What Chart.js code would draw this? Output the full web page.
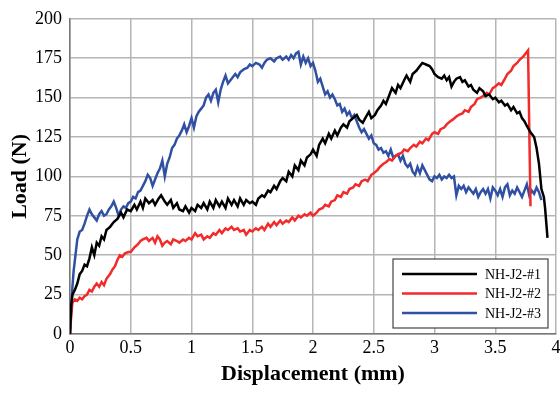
<!DOCTYPE html>
<html>
<head>
<meta charset="utf-8">
<script src="https://cdn.jsdelivr.net/npm/chart.js@4/dist/chart.umd.min.js"></script>
<style>
  html, body { margin: 0; padding: 0; background: #fff; }
  #wrap { width: 560px; height: 396px; }
</style>
</head>
<body>
<div id="wrap"><canvas id="loadChart"></canvas></div>
<script>
// values (displacement in mm, load in N)
var seriesNames = ["NH-J2-#1", "NH-J2-#2", "NH-J2-#3"];
var xTicks = [0, 0.5, 1, 1.5, 2, 2.5, 3, 3.5, 4];
var yTicks = [0, 25, 50, 75, 100, 125, 150, 175, 200];

var j1x = [0,0.01,0.02,0.04,0.06,0.08,0.10,0.12,0.14,0.16,0.18,0.20,0.22,0.24,0.26,0.28,0.30,0.33,0.36,0.39,
  0.42,0.44,0.47,0.50,0.53,0.55,0.58,0.60,0.62,0.65,0.68,0.70,0.73,0.75,0.78,0.80,0.83,0.85,0.88,0.90,
  0.93,0.95,0.98,1.00,1.03,1.05,1.08,1.10,1.13,1.15,1.18,1.20,1.23,1.25,1.28,1.30,1.33,1.35,1.38,1.40,
  1.43,1.45,1.48,1.50,1.53,1.55,1.58,1.60,1.63,1.65,1.68,1.70,1.73,1.75,1.78,1.80,1.83,1.85,1.88,1.90,
  1.93,1.95,1.98,2.00,2.03,2.05,2.08,2.10,2.13,2.15,2.18,2.20,2.23,2.25,2.28,2.30,2.33,2.36,2.38,2.41,
  2.43,2.46,2.48,2.51,2.53,2.56,2.58,2.60,2.63,2.65,2.68,2.70,2.72,2.75,2.77,2.80,2.82,2.85,2.88,2.90,
  2.93,2.96,2.98,3.00,3.03,3.06,3.08,3.10,3.12,3.14,3.16,3.18,3.21,3.23,3.25,3.28,3.30,3.32,3.35,3.37,
  3.40,3.42,3.45,3.48,3.50,3.53,3.55,3.58,3.60,3.63,3.65,3.68,3.70,3.72,3.74,3.76,3.79,3.82,3.84,3.86,
  3.88,3.90,3.91,3.93];
var j1y = [0,18,25,28,32,38,40,44,43,48,55,50,58,56,62,60,66,68,71,73,
  77,74,79,78,82,79,84,80,86,83,85,82,86,88,84,82,85,80,83,79,
  78,81,77,80,78,82,80,83,79,84,80,85,81,84,80,86,82,85,81,86,
  82,85,83,84,82,86,88,87,91,90,94,92,97,99,97,103,100,107,104,110,
  107,112,114,117,113,120,124,121,127,124,129,126,131,133,131,135,137,139,136,134,
  137,141,137,139,142,145,148,146,152,156,153,158,156,161,164,160,165,167,170,172,
  171,170,168,165,163,162,164,161,163,157,160,162,163,160,161,157,158,155,153,156,
  154,151,152,149,150,147,148,145,146,142,144,140,141,137,135,132,128,125,118,108,
  92,87,80,61];

var j2x = [0,0.01,0.02,0.04,0.06,0.08,0.10,0.12,0.14,0.16,0.18,0.20,0.22,0.24,0.26,0.28,0.30,0.33,0.35,0.37,
  0.39,0.41,0.43,0.45,0.48,0.50,0.53,0.56,0.58,0.60,0.63,0.65,0.68,0.70,0.72,0.74,0.76,0.78,0.80,0.83,
  0.85,0.88,0.90,0.93,0.95,0.98,1.00,1.03,1.05,1.08,1.10,1.13,1.15,1.18,1.20,1.23,1.25,1.28,1.30,1.33,
  1.35,1.38,1.40,1.43,1.45,1.48,1.50,1.53,1.55,1.58,1.60,1.63,1.65,1.68,1.70,1.73,1.75,1.78,1.80,1.83,
  1.85,1.88,1.90,1.93,1.95,1.98,2.00,2.03,2.05,2.08,2.10,2.13,2.15,2.18,2.20,2.23,2.25,2.28,2.30,2.33,
  2.35,2.38,2.40,2.43,2.45,2.48,2.50,2.53,2.55,2.58,2.60,2.63,2.65,2.68,2.70,2.73,2.75,2.78,2.80,2.83,
  2.85,2.88,2.90,2.93,2.95,2.98,3.00,3.03,3.05,3.08,3.10,3.13,3.15,3.18,3.20,3.23,3.25,3.28,3.30,3.33,
  3.35,3.38,3.40,3.43,3.45,3.48,3.50,3.53,3.55,3.58,3.60,3.63,3.65,3.68,3.70,3.73,3.75,3.77,3.79];
var j2y = [0,12,20,22,21,23,22,24,25,28,27,30,32,30,33,31,35,38,41,43,
  47,50,49,51,52,52,55,57,59,60,61,59,61,58,62,60,56,58,59,57,
  60,59,58,60,59,61,60,64,62,63,60,62,61,64,63,66,64,67,66,68,
  66,67,65,66,63,66,65,67,66,68,66,70,68,71,69,72,70,72,71,74,
  72,75,74,76,75,77,75,77,79,80,82,81,84,85,88,87,90,89,92,93,
  95,94,97,98,97,101,102,104,106,108,109,111,110,113,114,115,117,116,118,120,
  119,122,121,124,123,127,128,127,130,131,133,135,136,138,139,140,142,141,144,146,
  149,150,151,153,152,156,157,159,158,162,165,167,170,172,174,176,178,180,81];

var j3x = [0,0.01,0.02,0.03,0.045,0.06,0.08,0.10,0.12,0.14,0.16,0.18,0.20,0.22,0.24,0.26,0.28,0.30,0.32,0.34,
  0.36,0.38,0.40,0.42,0.44,0.46,0.48,0.50,0.52,0.54,0.56,0.58,0.60,0.62,0.64,0.66,0.68,0.70,0.72,0.74,
  0.76,0.78,0.80,0.82,0.84,0.86,0.88,0.90,0.92,0.94,0.96,0.98,1.00,1.02,1.04,1.06,1.08,1.10,1.12,1.14,
  1.16,1.18,1.20,1.22,1.24,1.26,1.28,1.30,1.33,1.36,1.38,1.40,1.43,1.46,1.48,1.50,1.53,1.56,1.58,1.60,
  1.62,1.65,1.68,1.70,1.73,1.75,1.78,1.80,1.82,1.84,1.86,1.88,1.90,1.92,1.94,1.96,1.98,2.00,2.02,2.04,
  2.06,2.08,2.10,2.12,2.14,2.16,2.18,2.20,2.22,2.24,2.26,2.28,2.30,2.32,2.34,2.36,2.38,2.40,2.42,2.44,
  2.46,2.48,2.50,2.52,2.54,2.56,2.58,2.60,2.62,2.64,2.66,2.68,2.70,2.72,2.74,2.76,2.78,2.80,2.82,2.84,
  2.86,2.88,2.90,2.92,2.94,2.96,2.98,3.00,3.02,3.04,3.06,3.08,3.10,3.12,3.14,3.16,3.18,3.20,3.22,3.24,
  3.26,3.28,3.30,3.32,3.34,3.36,3.38,3.40,3.42,3.44,3.46,3.48,3.50,3.52,3.54,3.56,3.58,3.60,3.62,3.64,
  3.66,3.68,3.70,3.72,3.74,3.76,3.78,3.80,3.82,3.84,3.86,3.88];
var j3y = [0,15,30,40,50,60,65,66,70,75,79,76,74,72,76,78,75,76,79,81,
  84,80,75,79,81,80,83,84,87,86,90,91,94,97,101,99,94,98,102,105,
  110,100,108,112,118,120,124,126,129,133,128,132,137,131,138,141,143,145,150,152,
  148,153,155,147,155,160,164,159,162,165,163,166,168,169,171,170,172,171,169,172,
  174,175,173,175,176,174,176,174,177,175,178,179,171,176,172,175,170,172,167,160,
  162,157,152,154,150,152,149,145,146,141,143,139,141,137,139,135,131,128,130,127,
  124,126,121,120,117,118,115,116,113,117,112,113,114,110,113,108,106,108,103,101,
  106,102,107,104,101,98,97,100,99,101,98,100,99,101,99,100,88,94,92,94,
  90,93,91,89,92,87,90,92,89,92,86,93,91,88,92,87,93,95,88,91,
  89,93,90,87,91,95,88,91,89,93,90,85];

function pts(xs, ys) {
  return xs.map(function (x, i) { return { x: x, y: ys[i] }; });
}

var serif = "'Liberation Serif', 'Times New Roman', serif";

// legend box drawn inside the plot, lower right
var boxLegend = {
  id: 'boxLegend',
  afterDraw: function (chart) {
    var c = chart.ctx, a = chart.chartArea;
    var w = 155, h = 69;
    var x0 = a.right - 8 - w, y0 = a.bottom - 6 - h;
    c.save();
    c.fillStyle = '#fff';
    c.fillRect(x0, y0, w, h);
    c.strokeStyle = '#444';
    c.lineWidth = 1.2;
    c.strokeRect(x0, y0, w, h);
    c.font = '14px ' + serif;
    c.textBaseline = 'middle';
    chart.data.datasets.forEach(function (ds, i) {
      var yy = y0 + 15 + i * 19.5;
      c.strokeStyle = ds.borderColor;
      c.lineWidth = 2.5;
      c.beginPath();
      c.moveTo(x0 + 9, yy);
      c.lineTo(x0 + 84, yy);
      c.stroke();
      c.fillStyle = '#000';
      c.fillText(ds.label, x0 + 92, yy + 1);
    });
    c.restore();
  }
};

function plain(v) { return String(v); }

new Chart(document.getElementById('loadChart'), {
  type: 'line',
  data: {
    datasets: [
      { label: seriesNames[0], data: pts(j1x, j1y), borderColor: '#000000' },
      { label: seriesNames[1], data: pts(j2x, j2y), borderColor: '#f22a2a' },
      { label: seriesNames[2], data: pts(j3x, j3y), borderColor: '#3050a4' }
    ]
  },
  options: {
    responsive: true,
    maintainAspectRatio: false,
    animation: false,
    elements: {
      line: { borderWidth: 2.5, tension: 0, fill: false },
      point: { radius: 0 }
    },
    layout: { padding: { top: 11, right: 0, left: 0, bottom: 0 } },
    plugins: {
      legend: { display: false },
      tooltip: { enabled: false }
    },
    scales: {
      x: {
        type: 'linear',
        min: 0, max: 4,
        afterFit: function (s) { s.height = 62; s.paddingRight = 4; },
        afterBuildTicks: function (s) { s.ticks = xTicks.map(function (v) { return { value: v }; }); },
        ticks: { color: '#000', padding: 3, maxRotation: 0, callback: plain, font: { family: serif, size: 18 } },
        grid: { color: '#b5b5b5', lineWidth: 1.5, drawTicks: false },
        border: { color: '#777', width: 1.5 },
        title: {
          display: true, text: 'Displacement (mm)', color: '#000',
          font: { family: serif, size: 22, weight: 'bold' },
          padding: { top: 0, bottom: 8 }
        }
      },
      y: {
        min: 0, max: 200,
        afterFit: function (s) { s.width = 70; },
        afterBuildTicks: function (s) { s.ticks = yTicks.map(function (v) { return { value: v }; }); },
        ticks: { color: '#000', padding: 8, callback: plain, font: { family: serif, size: 18 } },
        grid: { color: '#b5b5b5', lineWidth: 1.5, drawTicks: false },
        border: { color: '#777', width: 1.5 },
        title: {
          display: true, text: 'Load (N)', color: '#000',
          font: { family: serif, size: 22, weight: 'bold' },
          padding: { top: 7, bottom: 0 }
        }
      }
    }
  },
  plugins: [boxLegend]
});
</script>
</body>
</html>
